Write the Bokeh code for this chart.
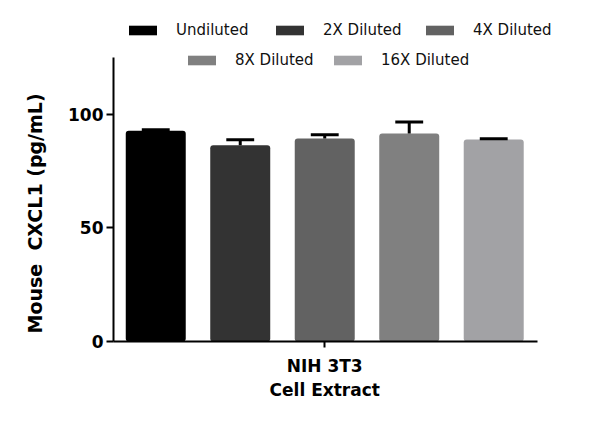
from bokeh.plotting import figure
from bokeh.models import Range1d, FixedTicker, Legend, LegendItem, ColumnDataSource, Title
from bokeh.embed import file_html
from bokeh.resources import INLINE

categories = ["Undiluted", "2X Diluted", "4X Diluted", "8X Diluted", "16X Diluted"]
means = [92.8, 86.4, 89.4, 91.6, 88.9]
errors = [0.4, 2.4, 1.6, 5.0, 0.4]
colors = ["#000000", "#333333", "#626262", "#808080", "#a2a2a5"]
group_label = "NIH 3T3\nCell Extract"
y_ticks = [0, 50, 100]
y_axis_max = 125
y_title = "Mouse\u00a0 CXCL1 (pg/mL)"

p = figure(width=600, height=433, output_backend="svg", toolbar_location=None,
           x_range=Range1d(-0.5, 5.027), y_range=Range1d(0, 143.5),
           min_border_left=113, min_border_right=20, min_border_top=15, min_border_bottom=92)
p.outline_line_color = None
p.grid.visible = False
p.background_fill_color = "white"

renderers = []
for i, (c, m, col) in enumerate(zip(categories, means, colors)):
    src = ColumnDataSource(dict(x=[i], top=[m]))
    r = p.vbar(x="x", top="top", bottom=0, width=0.71, source=src,
               fill_color=col, line_color=None, border_radius=3)
    renderers.append(r)

xs = list(range(len(means)))
ups = [m + e for m, e in zip(means, errors)]
p.segment(x0=xs, y0=means, x1=xs, y1=ups, line_color="black", line_width=3)
p.segment(x0=[x - 0.165 for x in xs], y0=ups, x1=[x + 0.165 for x in xs], y1=ups,
          line_color="black", line_width=3)

# y axis (line limited to 0..125)
p.yaxis.bounds = (0, y_axis_max)
p.yaxis.ticker = FixedTicker(ticks=y_ticks)
p.yaxis.minor_tick_line_color = None
p.yaxis.major_tick_out = 7
p.yaxis.major_tick_in = 0
p.yaxis.axis_line_width = 2
p.yaxis.major_tick_line_width = 2
p.yaxis.major_label_text_font = "DejaVu Sans"
p.yaxis.major_label_text_font_style = "bold"
p.yaxis.major_label_text_font_size = "17px"
p.yaxis.major_label_text_color = "black"
p.yaxis.major_label_standoff = 3

# y title as a left-side Title, anchored near the bottom of the axis
p.add_layout(Title(text=y_title, align="left", offset=8, standoff=39,
                   text_font="DejaVu Sans", text_font_style="bold",
                   text_font_size="19px", text_color="black"), "left")

p.xaxis.bounds = (-0.5, 4.52)
p.xaxis.ticker = FixedTicker(ticks=[2])
p.xaxis.major_label_overrides = {2: group_label}
p.xaxis.minor_tick_line_color = None
p.xaxis.major_tick_out = 6
p.xaxis.major_tick_in = 0
p.xaxis.axis_line_width = 2
p.xaxis.major_tick_line_width = 2
p.xaxis.major_label_text_font = "DejaVu Sans"
p.xaxis.major_label_text_font_style = "bold"
p.xaxis.major_label_text_font_size = "17px"
p.xaxis.major_label_text_color = "black"
p.xaxis.major_label_standoff = 8

# legends: one per entry, positioned absolutely (frame-relative px)
frame_left, frame_bottom = 113, 341
legend_pos = [(125, 30), (272, 30), (422, 30), (184, 60), (330, 60)]
for c, r, (gx, gy) in zip(categories, renderers, legend_pos):
    lg = Legend(items=[LegendItem(label=c, renderers=[r])],
                location=(gx - frame_left, frame_bottom - gy - 9),
                glyph_width=35, glyph_height=12, label_standoff=16,
                padding=0, margin=0, border_line_color=None,
                background_fill_alpha=0, label_height=18,
                label_text_font="DejaVu Sans", label_text_font_size="15px",
                label_text_color="#111111")
    p.add_layout(lg, "center")

open("out.html", "w").write(file_html(p, INLINE))
